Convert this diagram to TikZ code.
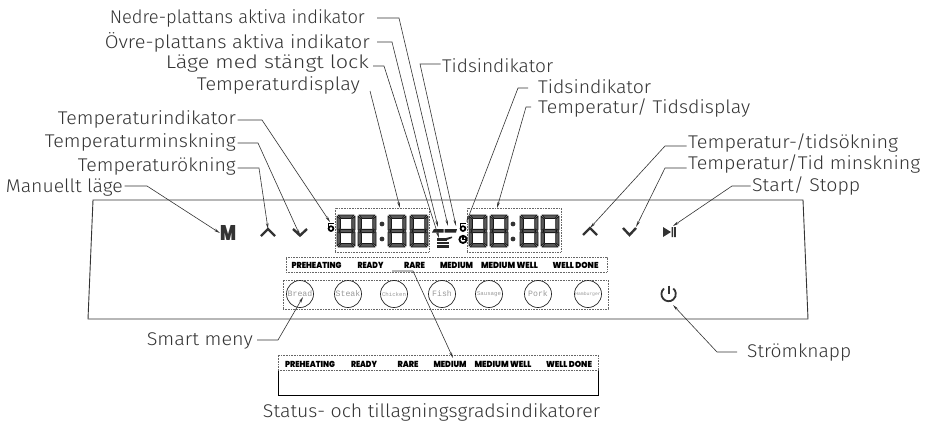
\documentclass[tikz,border=0pt]{standalone}
\usepackage{fontspec}
\usepackage{graphicx}
\usetikzlibrary{arrows.meta}
\setmainfont{Fira Sans Light}
\newfontfamily\heavyfont{Poppins Black}
\newfontfamily\btnfont{Liberation Mono}
\definecolor{ink}{HTML}{333333}
\definecolor{boxdot}{HTML}{666666}
\newcommand{\fw}[2]{\resizebox{#1pt}{\height}{#2}}
\tikzset{
  lblE/.style={anchor=base east,inner sep=1.5pt,text=ink,font=\fontsize{18.4}{18}\selectfont},
  lblW/.style={anchor=base west,inner sep=1.5pt,text=ink,font=\fontsize{18.4}{18}\selectfont},
  lead/.style={draw=ink,line width=.6pt,-{Stealth[length=6pt,width=2.6pt]}},
  panel/.style={draw=ink,line width=.9pt},
  dotbox/.style={draw=boxdot,line width=.8pt,dash pattern=on .9pt off .7pt},
  chev/.style={draw=ink,line width=2.4pt},
  seg/.style={fill=black!65,draw=black!90,line width=.9pt,line join=round},
  btn/.style={draw=black!85,line width=.7pt,circle,minimum size=27pt,inner sep=0pt,text=black!40},
  stat/.style={inner sep=0pt,anchor=center,text=black},
}
\newcommand{\segdigit}[2]{%
  \begin{scope}[shift={(#1,#2)}]
    \draw[seg] (1,0) -- (17,0) -- (14,3.5) -- (4,3.5) -- cycle;
    \draw[seg] (1,32) -- (17,32) -- (14,28.5) -- (4,28.5) -- cycle;
    \draw[seg] (2,16) -- (4,14.4) -- (14,14.4) -- (16,16) -- (14,17.6) -- (4,17.6) -- cycle;
    \draw[seg] (0,1) -- (3.3,4) -- (3.3,13.6) -- (1,15.4) -- (0,15) -- cycle;
    \draw[seg] (18,1) -- (14.7,4) -- (14.7,13.6) -- (17,15.4) -- (18,15) -- cycle;
    \draw[seg] (0,31) -- (3.3,28) -- (3.3,18.4) -- (1,16.6) -- (0,17) -- cycle;
    \draw[seg] (18,31) -- (14.7,28) -- (14.7,18.4) -- (17,16.6) -- (18,17) -- cycle;
  \end{scope}}
\newcommand{\statusrow}[3]{%
  \node[stat] (#1a) at (#2,#3) {\resizebox{50pt}{6.2pt}{\heavyfont PREHEATING}};
  \node[stat] (#1b) at (#2+54,#3) {\resizebox{26pt}{6.2pt}{\heavyfont READY}};
  \node[stat] (#1c) at (#2+98,#3) {\resizebox{21pt}{6.2pt}{\heavyfont RARE}};
  \node[stat] (#1d) at (#2+140,#3) {\resizebox{33pt}{6.2pt}{\heavyfont MEDIUM}};
  \node[stat] (#1e) at (#2+193,#3) {\resizebox{57pt}{6.2pt}{\heavyfont MEDIUM WELL}};
  \node[stat] (#1f) at (#2+259,#3) {\resizebox{46pt}{6.2pt}{\heavyfont WELL DONE}};}
\begin{document}
\begin{tikzpicture}[x=1pt,y=-1pt]
\useasboundingbox (0,0) rectangle (931,424);
% panel
\draw[panel] (93,200) -- (803,200) -- (808,319) -- (88,319) -- cycle;
% labels
\node[lblE] (nedre) at (366.5,23) {\fw{255}{Nedre-plattans aktiva indikator}};
\node[lblE] (ovre) at (371.5,48) {\fw{265}{Övre-plattans aktiva indikator}};
\node[lblE] (lage) at (370.5,68) {\fw{203}{Läge med stängt lock}};
\node[lblE] (tdisp) at (361.5,90) {\fw{163}{Temperaturdisplay}};
\node[lblW] (tid1) at (440.5,72) {\fw{111}{Tidsindikator}};
\node[lblW] (tid2) at (536.5,93) {\fw{113}{Tidsindikator}};
\node[lblW] (ttdisp) at (536.5,113) {\fw{212}{Temperatur/ Tidsdisplay}};
\node[lblE] (tind) at (237.5,124) {\fw{178}{Temperaturindikator}};
\node[lblE] (tmin) at (237.5,147) {\fw{191}{Temperaturminskning}};
\node[lblE] (tokn) at (237.5,171) {\fw{158}{Temperaturökning}};
\node[lblE] (man) at (124.5,192) {\fw{117}{Manuellt läge}};
\node[lblW] (tto) at (686.5,148) {\fw{210}{Temperatur-/tidsökning}};
\node[lblW] (ttm) at (686.5,169) {\fw{232}{Temperatur/Tid minskning}};
\node[lblW] (start) at (750.5,191) {\fw{108}{Start/ Stopp}};
\node[lblE] (smart) at (254.5,345) {\fw{106}{Smart meny}};
\node[lblW] (strom) at (745.5,357) {\fw{104}{Strömknapp}};
\node[anchor=base,inner sep=0pt,text=ink,font=\fontsize{18.4}{18}\selectfont] (statl) at (431.5,417) {\fw{337}{Status- och tillagningsgradsindikatorer}};
% display boxes
\node[dotbox,minimum width=94pt,minimum height=44pt,inner sep=0pt] (dl) at (382,230) {};
\node[dotbox,minimum width=94pt,minimum height=44pt,inner sep=0pt] (dr) at (514,230) {};
\segdigit{337}{215}\segdigit{358}{215}\segdigit{388}{215}\segdigit{410}{215}
\segdigit{469}{215}\segdigit{490}{215}\segdigit{520}{215}\segdigit{541}{215}
\foreach \cx in {382,513} \foreach \cy in {224,239} \fill[black!80] (\cx,\cy) circle[radius=2.4pt];
% centre indicators
\fill[black!85] (432,232.5) -- (434,229) -- (443.5,229) -- (443.5,232.5) -- cycle;
\fill[black!85] (444.5,232.5) -- (444.5,229) -- (457,229) -- (456,232.5) -- cycle;
\fill[black!85] (437,238) rectangle (447,240.5);
\fill[black!85] (437,241.5) rectangle (449,244);
\fill[black!85] (437,245) rectangle (449,247.5);
\fill[black!85] (446,238) -- (452,236.5) -- (452,238) -- (447,240) -- cycle;
% temperature / clock marks
\foreach \ix/\iy in {331/228.6,463/228.6} {
  \draw[black,line width=1.7pt] (\ix,\iy) circle[radius=2.4pt];
  \draw[black,line width=1.7pt] (\ix-2.4,\iy-1.5) -- (\ix-2.4,\iy-5) -- (\ix+3.2,\iy-5);
}
\coordinate (tempmark) at (330,222);
\draw[black,line width=1.8pt] (463,239.4) circle[radius=3.6pt];
\draw[black,line width=1.2pt] (463,236.5) -- (463,239.6) -- (465.5,239.6);
% buttons
\node[inner sep=0pt] (mbtn) at (228,233) {\resizebox{16pt}{15pt}{\heavyfont\color{ink}M}};
\draw[chev] (261,236) -- (268,229) coordinate (uL) -- (275,236);
\draw[chev] (293,229) -- (300,235.5) coordinate (dL) -- (307,229);
\draw[chev] (583,235) -- (590,228) coordinate (uR) -- (597,235);
\draw[chev] (623,228) -- (629.5,235) coordinate (dR) -- (636,228);
\fill[ink] (663,227) -- (671,232) -- (663,237) -- cycle;
\fill[ink] (671.6,227) rectangle (673.2,237) (674.2,227) rectangle (675.8,237);
% status bar
\node[dotbox,minimum width=321pt,minimum height=15pt,inner sep=0pt] (bar) at (446.5,264.5) {};
\statusrow{s}{316.5}{265.5}
% menu
\node[dotbox,minimum width=325pt,minimum height=29pt,inner sep=0pt] (menu) at (445.5,294.5) {};
\node[btn,font=\btnfont\fontsize{8.2}{8}\selectfont] (bread) at (300,294) {Bread};
\node[btn,font=\btnfont\fontsize{8.2}{8}\selectfont] (steak) at (348,294) {Steak};
\node[btn,font=\btnfont\fontsize{5.7}{6}\selectfont] (chick) at (394,294) {Chicken};
\node[btn,font=\btnfont\fontsize{8.2}{8}\selectfont] (fish) at (442,294) {Fish};
\node[btn,font=\btnfont\fontsize{5.7}{6}\selectfont] (saus) at (489,294) {Sausage};
\node[btn,font=\btnfont\fontsize{8.2}{8}\selectfont] (pork) at (538,294) {Pork};
\node[btn,font=\btnfont\fontsize{4.7}{5}\selectfont] (hamb) at (588,294) {Hamburger};
% power
\draw[ink,line width=1.8pt] (664,288.5) arc[start angle=130,end angle=410,radius=7.2pt];
\draw[ink,line width=1.8pt] (669,285.5) -- (669,294);
% lower bar
\draw[black,line width=.9pt] (278,370) -- (278,395) -- (598,395) -- (598,370);
\node[dotbox,minimum width=320pt,minimum height=15pt,inner sep=0pt] (bar2) at (438,362.5) {};
\statusrow{t}{310}{364}
% corners
\coordinate (c1) at (399,18);
\coordinate (c2) at (392,42);
\coordinate (c3) at (384,66);
\coordinate (c5) at (420,64);
\coordinate (c6) at (518,88);
\coordinate (c7) at (526,107);
\coordinate (c8) at (262,120);
\coordinate (c9) at (258,143);
\coordinate (c10) at (259,168);
\coordinate (c11) at (147,186);
\coordinate (c12) at (665,146);
\coordinate (c13) at (665,168);
\coordinate (c14) at (732,186);
\coordinate (c15) at (278,340);
\coordinate (c16) at (717,352);
\coordinate (d0) at (370,91);
\coordinate (rareL) at (392,271);
\coordinate (rareR) at (413,271);
% connectors
\path[lead] ([xshift=10.5]nedre.east |- c1) -- (c1) -- (448,226);
\path[lead] ([xshift=5.5]ovre.east |- c2) -- (c2) -- (438,227);
\path[lead] ([xshift=2.5]lage.east |- c3) -- (c3) -- (439,238);
\path[lead] (d0) -- (400,208);
\path[lead] (tid1.west |- c5) -- (c5) -- (456,226);
\path[lead] ([xshift=-8.5]tid2.west |- c6) -- (c6) -- (466.5,222);
\path[lead] ([xshift=-5.5]ttdisp.west |- c7) -- (c7) -- (497,208);
\path[lead] (tind.east |- c8) -- (c8) -- (tempmark);
\path[lead] (tmin.east |- c9) -- (c9) -- (dL);
\path[lead] (tokn.east |- c10) -- (c10) -- (uL);
\path[lead] (man.east |- c11) -- (c11) -- (mbtn.west);
\path[lead] (tto.west |- c12) -- (c12) -- (uR);
\path[lead] (ttm.west |- c13) -- (c13) -- (636,227);
\path[lead] (start.west |- c14) -- (c14) -- (673,226);
\path[lead] ([xshift=2.5]smart.east |- c15) -- (c15) -- (303,297);
\path[lead] ([xshift=-8.5]strom.west |- c16) -- (c16) -- (673,305);
\path[lead] (rareL) -- (rareR) -- (453,358);
\end{tikzpicture}
\end{document}
